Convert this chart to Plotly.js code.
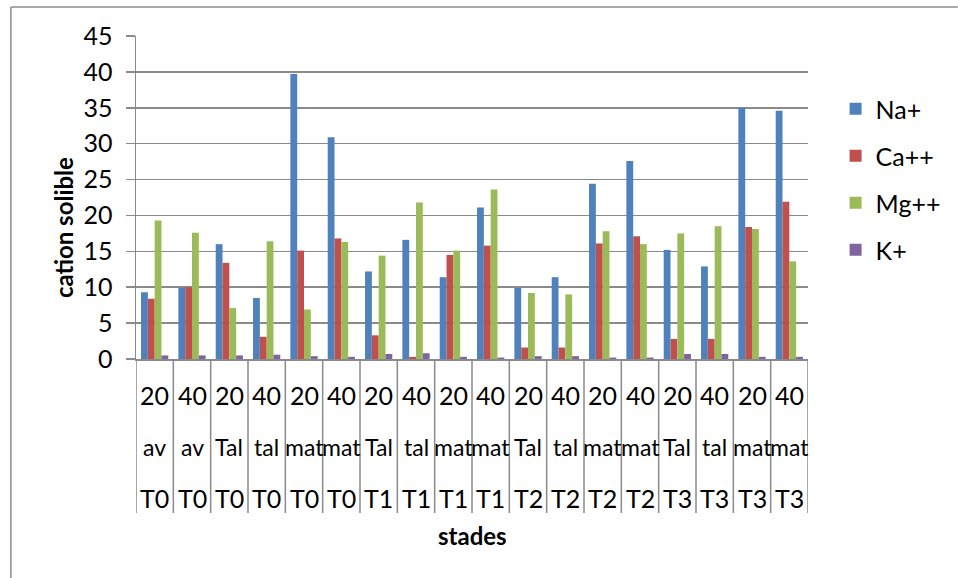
<!DOCTYPE html>
<html>
<head>
<meta charset="utf-8">
<script src="https://cdn.plot.ly/plotly-3.0.1.min.js"></script>
<style>
  html, body { margin: 0; padding: 0; background: #ffffff; }
  #chart { width: 958px; height: 578px; }
</style>
</head>
<body>
<div id="chart"></div>
<script>
// Category levels (depth / stage / treatment)
const depths = ["20", "40", "20", "40", "20", "40", "20", "40", "20", "40", "20", "40", "20", "40", "20", "40", "20", "40"];
const stages = ["av", "av", "Tal", "tal", "mat", "mat", "Tal", "tal", "mat", "mat", "Tal", "tal", "mat", "mat", "Tal", "tal", "mat", "mat"];
const treatments = ["T0", "T0", "T0", "T0", "T0", "T0", "T1", "T1", "T1", "T1", "T2", "T2", "T2", "T2", "T3", "T3", "T3", "T3"];

// Soluble cations
const naValues = [9.3, 9.9, 16.0, 8.5, 39.7, 30.9, 12.2, 16.6, 11.4, 21.1, 9.9, 11.4, 24.4, 27.6, 15.2, 12.9, 35.0, 34.6];
const caValues = [8.4, 10.0, 13.4, 3.1, 15.1, 16.8, 3.3, 0.3, 14.5, 15.8, 1.6, 1.6, 16.1, 17.1, 2.8, 2.8, 18.4, 21.9];
const mgValues = [19.3, 17.6, 7.1, 16.4, 6.9, 16.3, 14.4, 21.8, 15.1, 23.6, 9.2, 9.0, 17.8, 16.0, 17.5, 18.5, 18.1, 13.6];
const kValues  = [0.5, 0.5, 0.5, 0.6, 0.4, 0.3, 0.7, 0.8, 0.3, 0.2, 0.4, 0.4, 0.2, 0.2, 0.7, 0.7, 0.3, 0.3];

const seriesNames = ["Na+", "Ca++", "Mg++", "K+"];
const seriesValues = [naValues, caValues, mgValues, kValues];
const seriesColors = ["#4F81BD", "#C0504D", "#9BBB59", "#8064A2"];

const FONT = "Lato, 'Open Sans', 'Liberation Sans', sans-serif";
const FS = 25;
const GRID = "#8a8a8a";

const catKeys = depths.map((d, i) => d + " " + stages[i] + " " + treatments[i]);

const traces = seriesNames.map((name, s) => ({
  type: "bar",
  name: name,
  x: catKeys,
  y: seriesValues[s],
  marker: { color: seriesColors[s], line: { width: 0 } },
  legendgroup: "g" + s,
  hoverinfo: "x+y+name"
}));

// Pixel-to-paper helpers for the plot box (136..818 x, 36..359 y)
const PL = 136, PR = 818, PT = 36, PB = 359;
const px = v => (v - PL) / (PR - PL);
const py = v => (PB - v) / (PB - PT);

const shapes = [];
// vertical separators of the category table
for (let i = 0; i <= catKeys.length; i++) {
  shapes.push({
    type: "line", xref: "x", yref: "paper",
    x0: i - 0.5, x1: i - 0.5, y0: 0, y1: py(513),
    line: { color: GRID, width: 1.5 }
  });
}
// outer chart frame (top and left edges)
shapes.push({ type: "line", xref: "paper", yref: "paper",
  x0: px(9), x1: px(970), y0: py(7), y1: py(7), line: { color: "#8c8c8c", width: 1.5 } });
shapes.push({ type: "line", xref: "paper", yref: "paper",
  x0: px(9), x1: px(9), y0: py(7), y1: py(590), line: { color: "#8c8c8c", width: 1.5 } });

const annotations = [];
const rows = [[depths, 395, FS], [stages, 447, 23], [treatments, 498, FS]];
rows.forEach(([labels, yPix, size]) => {
  labels.forEach((t, i) => {
    annotations.push({
      xref: "x", yref: "paper", x: i, y: py(yPix),
      text: t, showarrow: false, xanchor: "center", yanchor: "middle",
      font: { family: FONT, size: size, color: "#000" }
    });
  });
});
annotations.push({
  xref: "paper", yref: "paper", x: px(477), y: py(535),
  text: "<b>stades</b>", showarrow: false, xanchor: "center", yanchor: "middle",
  font: { family: FONT, size: 24, color: "#000" }
});
annotations.push({
  xref: "paper", yref: "paper", x: px(62), y: py(228),
  text: "<b>cation solible</b>", showarrow: false, textangle: -90,
  xanchor: "center", yanchor: "middle",
  font: { family: FONT, size: 24, color: "#000" }
});

const layout = {
  width: 958, height: 578,
  margin: { l: PL, r: 958 - PR, t: PT, b: 578 - PB, pad: 0 },
  paper_bgcolor: "#ffffff", plot_bgcolor: "#ffffff",
  font: { family: FONT, size: FS, color: "#000" },
  barmode: "group", bargap: 0.27, bargroupgap: 0,
  showlegend: true,
  legend: {
    x: px(846), y: py(86), xanchor: "left", yanchor: "top",
    font: { family: FONT, size: FS, color: "#000" },
    tracegroupgap: 11.5, bgcolor: "rgba(0,0,0,0)", borderwidth: 0
  },
  xaxis: {
    type: "category", range: [-0.5, catKeys.length - 0.5],
    showticklabels: false, ticks: "", showgrid: false, zeroline: false,
    showline: true, linecolor: GRID, linewidth: 1.5, fixedrange: true
  },
  yaxis: {
    range: [0, 45], dtick: 5, tick0: 0,
    showgrid: true, gridcolor: GRID, gridwidth: 1.5,
    zeroline: false, showline: true, linecolor: GRID, linewidth: 1.5,
    ticks: "outside", ticklen: 9, tickcolor: GRID, tickwidth: 1.5,
    ticklabelstandoff: 8,
    tickfont: { family: FONT, size: FS, color: "#000" }, fixedrange: true
  },
  shapes: shapes,
  annotations: annotations
};

Plotly.newPlot("chart", traces, layout, { displayModeBar: false, staticPlot: true });
</script>
</body>
</html>
